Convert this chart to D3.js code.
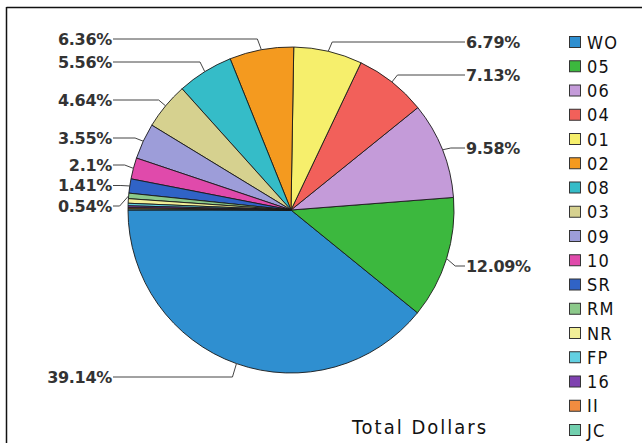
<!DOCTYPE html>
<html>
<head>
<meta charset="utf-8">
<script src="https://cdn.jsdelivr.net/npm/d3@7"></script>
<style>
  html, body { margin: 0; padding: 0; background: #fff; }
  svg { display: block; }
</style>
</head>
<body>
<svg id="chart" width="642" height="443"></svg>
<script>
// Share of total dollars by code
const categories = ["WO", "05", "06", "04", "01", "02", "08", "03", "09", "10", "SR", "RM", "NR", "FP", "16", "II", "JC"];
const shares = [39.14, 12.09, 9.58, 7.13, 6.79, 6.36, 5.56, 4.64, 3.55, 2.1, 1.41, 0.54, 0.45, 0.25, 0.18, 0.13, 0.10];
const shownLabels = ["39.14%", "12.09%", "9.58%", "7.13%", "6.79%", "6.36%", "5.56%", "4.64%", "3.55%", "2.1%", "1.41%", "0.54%"];
const colors = ["#2f8fd0", "#3cb83e", "#c49bd9", "#f2605a", "#f6ef6c", "#f49a1f", "#35bcc8", "#d6d18f", "#9d9dd9", "#e04aab", "#3063c6", "#8cc98a", "#f2ef98", "#62d0e2", "#7f42b0", "#f28c40", "#72cfae"];
const title = "Total Dollars";

const data = categories.map((c, i) => ({ code: c, value: shares[i], color: colors[i], label: shownLabels[i] || null }));

const svg = d3.select("#chart");
const W = 642, H = 443;
const cx = 291, cy = 210, R = 163;

// frame (top and left rules)
svg.append("line").attr("x1", 6.5).attr("x2", W).attr("y1", 7.5).attr("y2", 7.5).attr("stroke", "#111").attr("stroke-width", 1.5);
svg.append("line").attr("x1", 6.5).attr("x2", 6.5).attr("y1", 7).attr("y2", H).attr("stroke", "#111").attr("stroke-width", 1.5);

// slices run counter-clockwise starting from 9 o'clock
const pie = d3.pie().sort(null).value(d => d.value)
  .startAngle(1.5 * Math.PI).endAngle(-0.5 * Math.PI);
const arcs = pie(data);
const arc = d3.arc().innerRadius(0).outerRadius(R);

const g = svg.append("g").attr("transform", `translate(${cx},${cy})`);
g.selectAll("path.slice").data(arcs).join("path")
  .attr("class", "slice")
  .attr("d", arc)
  .attr("fill", d => d.data.color)
  .attr("stroke", "#1a1a1a")
  .attr("stroke-width", 0.9)
  .attr("stroke-linejoin", "round");

// leader lines and percentage labels
const labelFont = "'DejaVu Sans', sans-serif";
const legendFont = "'DejaVu Sans Condensed', 'DejaVu Sans', sans-serif";
// label row y for each labelled slice, in slice order
const labelY = [377, 266, 148, 75, 42, 39, 62, 100, 138, 165, 185.5, 206];
const leftX = 112, rightX = 466;

arcs.forEach((a, i) => {
  if (!a.data.label) return;
  const mid = (a.startAngle + a.endAngle) / 2;
  const px = cx + Math.sin(mid) * R;
  const py = cy - Math.cos(mid) * R;
  const ex = cx + Math.sin(mid) * (R + 9);
  const ey = labelY[i];
  const onRight = Math.sin(mid) > 0;
  const tx = onRight ? rightX : leftX;
  // short elbow from the rim, then a horizontal run to the text
  const elbowX = onRight ? Math.max(px + 4, Math.min(ex, px + 12)) : Math.min(px - 4, Math.max(ex, px - 12));
  const pts = [[px, py], [elbowX, ey], [tx + (onRight ? -1 : 1), ey]];
  svg.append("path")
    .attr("d", d3.line()(pts))
    .attr("fill", "none")
    .attr("stroke", "#444")
    .attr("stroke-width", 1);
  svg.append("text")
    .attr("x", tx)
    .attr("y", ey + 5.5)
    .attr("text-anchor", onRight ? "start" : "end")
    .attr("font-family", labelFont)
    .attr("font-size", 16)
    .attr("font-weight", "bold")
    .attr("letter-spacing", "-0.3")
    .attr("fill", "#333")
    .text(a.data.label);
});

// legend
const legY = d3.scalePoint().domain(categories).range([42, 430]);
const leg = svg.append("g");
leg.selectAll("rect").data(data).join("rect")
  .attr("x", 569.5)
  .attr("y", d => legY(d.code) - 5.5)
  .attr("width", 11)
  .attr("height", 11)
  .attr("fill", d => d.color)
  .attr("stroke", "#333")
  .attr("stroke-width", 1);
leg.selectAll("text").data(data).join("text")
  .attr("x", 587)
  .attr("y", d => legY(d.code) + 6.5)
  .attr("font-family", legendFont)
  .attr("font-size", 18)
  .attr("letter-spacing", "1.2")
  .attr("fill", "#111")
  .text(d => d.code);

svg.append("text")
  .attr("x", 352)
  .attr("y", 434)
  .attr("font-family", legendFont)
  .attr("font-size", 20)
  .attr("letter-spacing", "2")
  .attr("fill", "#111")
  .text(title);
</script>
</body>
</html>
